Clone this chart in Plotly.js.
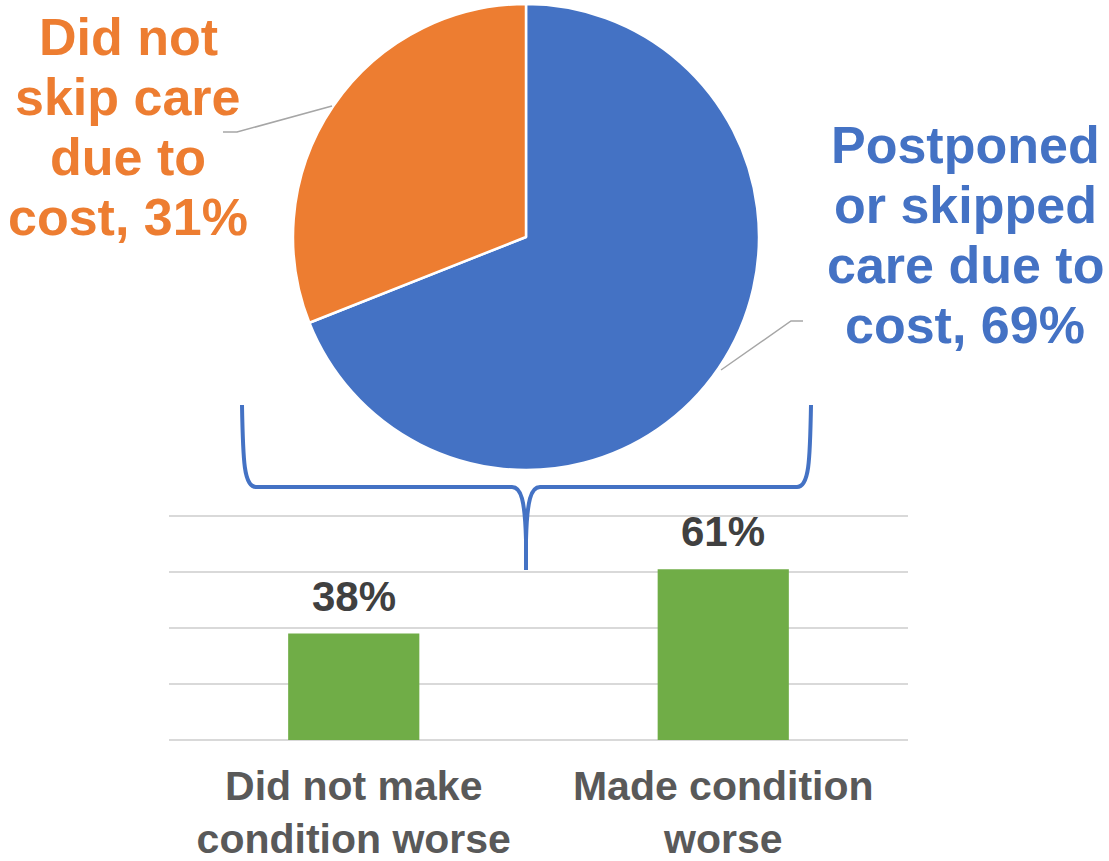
<!DOCTYPE html>
<html>
<head>
<meta charset="utf-8">
<script src="https://cdn.plot.ly/plotly-3.0.1.min.js"></script>
<style>html,body{margin:0;padding:0;background:#fff;}#chart{width:1109px;height:861px;}</style>
</head>
<body>
<div id="chart"></div>
<script>
// ---- data ----
const pieLabels = ['Postponed or skipped care due to cost', 'Did not skip care due to cost'];
const pieValues = [69, 31];
const pieColors = ['#4472C4', '#ED7D31'];
const pieLabelLines = [
  ['Postponed', 'or skipped', 'care due to', 'cost, 69%'],
  ['Did not', 'skip care', 'due to', 'cost, 31%']
];
const barCategories = ['Did not make<br>condition worse', 'Made condition<br>worse'];
const barValues = [38, 61];

// ---- layout helpers ----
const W = 1109, H = 861;
const px = x => x / W;
const py = y => 1 - y / H;
function pathStr(cmds) {
  return cmds.map(c => {
    const pts = [];
    for (let i = 1; i < c.length; i += 2) pts.push(px(c[i]).toFixed(5) + ',' + py(c[i + 1]).toFixed(5));
    return c[0] + pts.join(' ');
  }).join(' ');
}

const FONT = 'Liberation Sans, Arial, sans-serif';

const pie = {
  type: 'pie',
  labels: pieLabels,
  values: pieValues,
  sort: false,
  direction: 'clockwise',
  rotation: 0,
  marker: { colors: pieColors, line: { color: '#FFFFFF', width: 2.5 } },
  textinfo: 'none',
  hoverinfo: 'label+percent',
  domain: { x: [px(293), px(759)], y: [py(470), py(4)] },
  showlegend: false
};

const bars = {
  type: 'bar',
  x: barCategories,
  y: barValues,
  width: 0.355,
  marker: { color: '#70AD47' },
  textposition: 'none',
  showlegend: false,
  xaxis: 'x', yaxis: 'y'
};

const annotations = [];
// bar value labels, placed through the axes
barCategories.forEach((c, i) => {
  annotations.push({
    xref: 'x', yref: 'y', x: c, y: barValues[i],
    xanchor: 'center', yanchor: 'bottom', yshift: 12,
    text: barValues[i] + '%', showarrow: false,
    font: { family: FONT, size: 42, color: '#404040', weight: 'bold' }
  });
});
const labelCenters = [[965, [145, 205, 265, 325]], [128, [37, 97, 157, 217]]];
pieLabelLines.forEach((lines, k) => {
  lines.forEach((t, j) => {
    annotations.push({
      xref: 'paper', yref: 'paper',
      x: px(labelCenters[k][0]), y: py(labelCenters[k][1][j]),
      xanchor: 'center', yanchor: 'middle',
      text: t, showarrow: false,
      font: { family: FONT, size: 52, color: pieColors[k], weight: 'bold' }
    });
  });
});

const shapes = [
  // brace
  { type: 'path', xref: 'paper', yref: 'paper', layer: 'above',
    path: pathStr([['M', 242, 405], ['C', 243, 462, 244, 487, 256, 487], ['L', 512, 487],
                   ['C', 521, 487, 525, 500, 526, 540], ['L', 526, 570],
                   ['M', 526, 540], ['C', 527, 500, 531, 487, 540, 487], ['L', 797, 487],
                   ['C', 809, 487, 810, 462, 811, 405]]),
    line: { color: '#4472C4', width: 4 } },
  // leader lines
  { type: 'path', xref: 'paper', yref: 'paper',
    path: pathStr([['M', 332, 106], ['L', 237, 132], ['L', 223, 132]]),
    line: { color: '#A6A6A6', width: 1.5 } },
  { type: 'path', xref: 'paper', yref: 'paper',
    path: pathStr([['M', 721, 370], ['L', 791, 321], ['L', 803, 321]]),
    line: { color: '#A6A6A6', width: 1.5 } }
];

const layout = {
  width: W, height: H,
  margin: { l: 0, r: 0, t: 0, b: 0 },
  paper_bgcolor: '#FFFFFF', plot_bgcolor: 'rgba(0,0,0,0)',
  xaxis: {
    domain: [px(169), px(908)],
    showgrid: false, showline: false, zeroline: false,
    ticks: '', ticklabelstandoff: 18,
    tickfont: { family: FONT, size: 41, color: '#595959', weight: 'bold' },
    fixedrange: true
  },
  yaxis: {
    domain: [py(740), py(514.6)],
    range: [0, 80.5], dtick: 20, tick0: 0,
    showticklabels: false, ticks: '',
    showgrid: true, gridcolor: '#D9D9D9', gridwidth: 2,
    zeroline: true, zerolinecolor: '#D9D9D9', zerolinewidth: 2,
    showline: false, fixedrange: true
  },
  annotations: annotations,
  shapes: shapes,
  bargap: 0.5
};

Plotly.newPlot('chart', [bars, pie], layout, { displayModeBar: false, staticPlot: true });
</script>
</body>
</html>
